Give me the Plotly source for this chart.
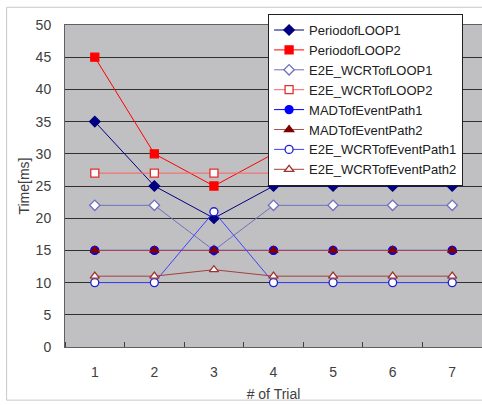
import plotly.graph_objects as go

trials = [1, 2, 3, 4, 5, 6, 7]
period_loop1 = [35, 25, 20, 25, 25, 25, 25]
period_loop2 = [45, 30, 25, 30, 30, 30, 30]
e2e_wcrt_loop1 = [22, 22, 15, 22, 22, 22, 22]
e2e_wcrt_loop2 = [27, 27, 27, 27, 27, 27, 27]
madt_path1 = [15, 15, 15, 15, 15, 15, 15]
madt_path2 = [15, 15, 15, 15, 15, 15, 15]
e2e_wcrt_path1 = [10, 10, 21, 10, 10, 10, 10]
e2e_wcrt_path2 = [11, 11, 12, 11, 11, 11, 11]

series = [
    ("PeriodofLOOP1", period_loop1, "#000080", "diamond", "#000080", "#000080"),
    ("PeriodofLOOP2", period_loop2, "#ff0000", "square", "#ff0000", "#ff0000"),
    ("E2E_WCRTofLOOP1", e2e_wcrt_loop1, "#7070c0", "diamond", "white", "#7070c0"),
    ("E2E_WCRTofLOOP2", e2e_wcrt_loop2, "#ff6060", "square", "white", "#e03030"),
    ("MADTofEventPath1", madt_path1, "#0000ff", "circle", "#0000ff", "#0000ff"),
    ("MADTofEventPath2", madt_path2, "#b05050", "triangle-up", "#800000", "#800000"),
    ("E2E_WCRTofEventPath1", e2e_wcrt_path1, "#4040ff", "circle", "white", "#2020d0"),
    ("E2E_WCRTofEventPath2", e2e_wcrt_path2, "#a04040", "triangle-up", "white", "#a03030"),
]

fig = go.Figure()
for name, vals, lc, sym, fill, edge in series:
    fig.add_trace(go.Scatter(
        x=trials, y=vals, name=name, mode="lines+markers",
        line=dict(color=lc, width=1),
        marker=dict(symbol=sym, size=8, color=fill, line=dict(color=edge, width=1.3)),
    ))

fig.update_layout(
    width=482, height=405,
    margin=dict(l=65, r=0, t=25, b=58),
    paper_bgcolor="white",
    plot_bgcolor="#c0c0c2",
    font=dict(family="Liberation Sans, Arial, sans-serif", size=14, color="#404040"),
    legend=dict(
        x=0.487, y=1.034, xanchor="left", yanchor="top",
        bgcolor="white", bordercolor="#202020", borderwidth=1,
        font=dict(size=13, color="#202020"),
        tracegroupgap=0, itemwidth=30,
    ),
    shapes=[dict(type="rect", xref="paper", yref="paper",
                 x0=-0.14, x1=1.1, y0=-0.165, y1=1.055,
                 line=dict(color="#c8c8c8", width=1), layer="below")],
)
fig.update_xaxes(
    range=[0.5, 7.5], tickvals=trials, ticks="",
    showgrid=False, zeroline=False,
    showline=True, linecolor="#606060", linewidth=1, mirror=True,
    minor=dict(ticks="inside", tick0=0.5, dtick=1, ticklen=5, tickcolor="#404040", showgrid=False),
    title=dict(text="# of Trial", font=dict(size=14), standoff=10),
    ticklabelstandoff=12,
)
fig.update_yaxes(
    range=[0, 50], dtick=5, ticks="",
    showgrid=True, gridcolor="#303030", gridwidth=1.2,
    zeroline=False,
    showline=True, linecolor="#606060", linewidth=1, mirror=True,
    title=dict(text="Time[ms]", font=dict(size=14), standoff=2),
    ticklabelstandoff=10,
)

fig.write_html("out.html")
